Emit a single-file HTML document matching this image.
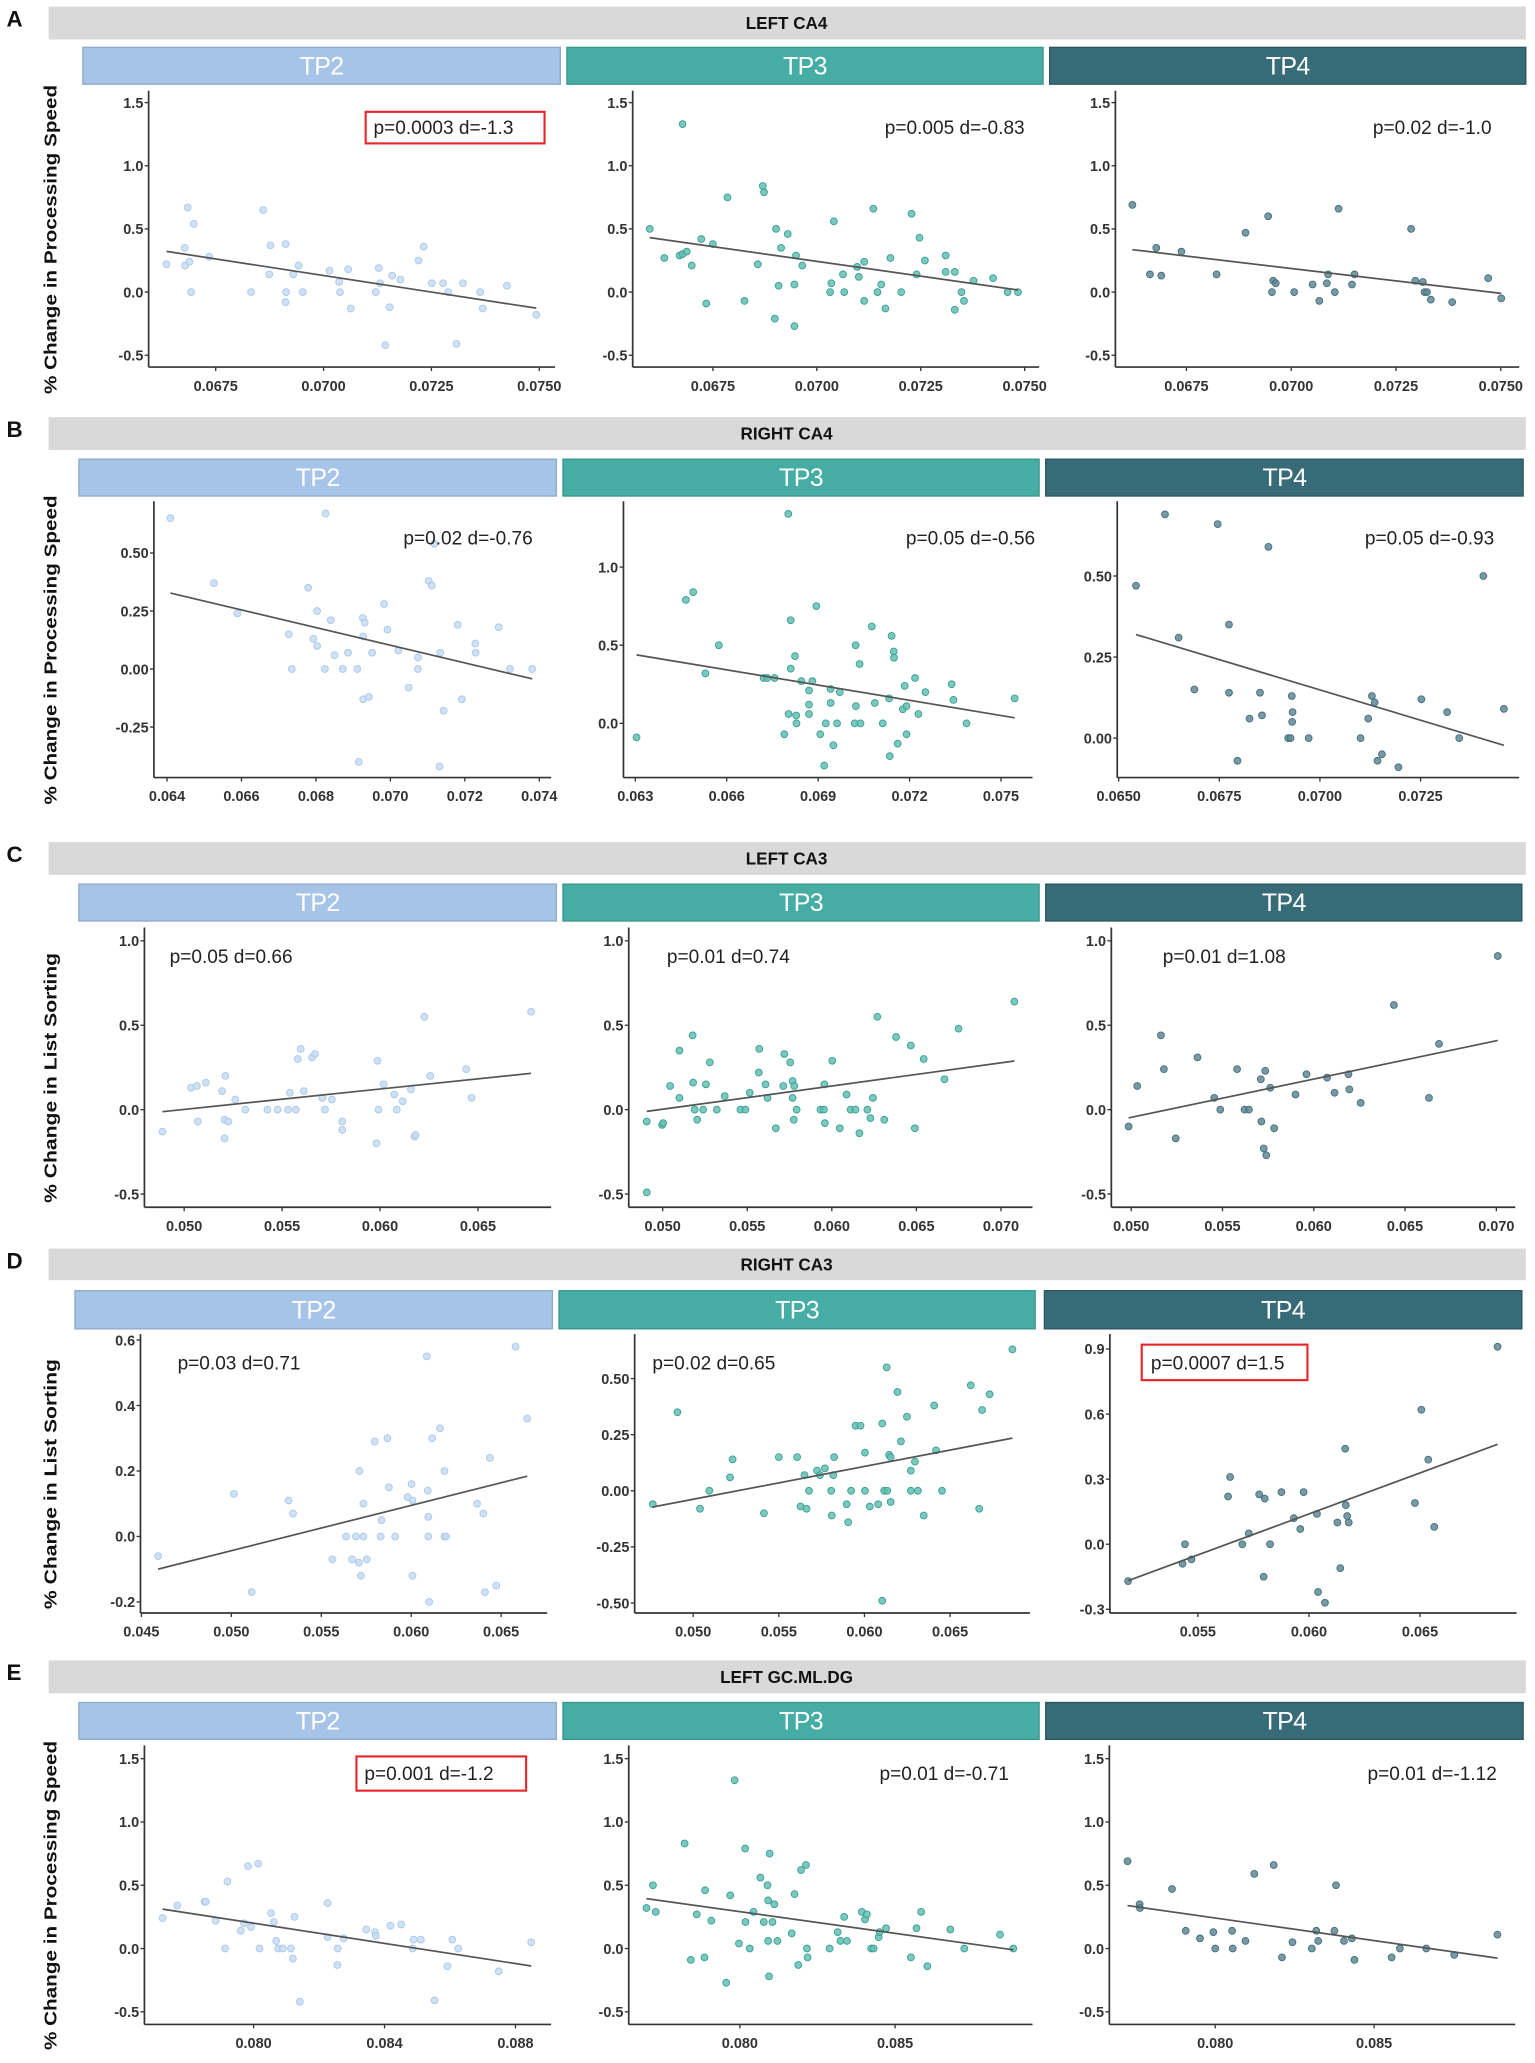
<!DOCTYPE html>
<html><head><meta charset="utf-8"><title>Hippocampal subfield scatter plots</title>
<style>
html,body{margin:0;padding:0;background:#fff;}
svg{display:block;}
text{font-family:"Liberation Sans",Arial,sans-serif;}
</style></head>
<body>
<svg id="fig" xmlns="http://www.w3.org/2000/svg" width="1535" height="2063" viewBox="0 0 1167 1568" preserveAspectRatio="none"></svg>
<script>
// ---------- data ----------
const a_tp2_x=[0.06636,0.06678,0.06685,0.06699,0.06679,0.06689,0.06693,0.06735,0.06832,0.0686,0.06874,0.06877,0.06912,0.06913,0.06912,0.0693,0.06942,0.06952,0.07014,0.07036,0.07038,0.07057,0.07063,0.07121,0.07128,0.07131,0.07143,0.07153,0.07159,0.07178,0.0722,0.07232,0.07251,0.07277,0.07289,0.07308,0.07323,0.07363,0.07369,0.07425,0.07493];
const a_tp2_y=[0.22,0.35,0.67,0.54,0.21,0.24,0,0.28,0,0.65,0.14,0.37,0.38,0,-0.08,0.14,0.21,0,0.17,0.08,0,0.18,-0.13,0,0.19,0.07,-0.42,-0.12,0.13,0.10,0.25,0.36,0.07,0.07,0,-0.41,0.07,0,-0.13,0.05,-0.18];
const a_tp3_x=[0.06598,0.06633,0.0667,0.06677,0.06687,0.06677,0.06699,0.06722,0.06734,0.0675,0.06785,0.06826,0.06858,0.0687,0.06873,0.06902,0.0693,0.06914,0.06899,0.06908,0.06946,0.06946,0.0695,0.06965,0.07032,0.07035,0.07041,0.07063,0.07066,0.07097,0.07101,0.07114,0.07114,0.07136,0.07146,0.07155,0.07165,0.07177,0.07203,0.07228,0.0724,0.07247,0.0726,0.0731,0.0731,0.07332,0.07332,0.07348,0.07354,0.07377,0.07424,0.07459,0.07484];
const a_tp3_y=[0.50,0.27,0.29,0.30,0.32,1.33,0.21,0.42,-0.09,0.38,0.75,-0.07,0.22,0.84,0.79,0.50,0.46,0.35,-0.21,0.05,-0.27,0.06,0.29,0.21,0,0.07,0.56,0.14,0,0.2,0.12,0.24,-0.07,0.66,0,0.06,-0.13,0.27,0,0.62,0.14,0.43,0.25,0.29,0.16,0.16,-0.14,0,-0.07,0.09,0.11,0,0];
const a_tp4_x=[0.06621,0.06663,0.06678,0.0669,0.06738,0.06822,0.06891,0.06945,0.06954,0.06957,0.06963,0.07007,0.07051,0.07067,0.07085,0.07088,0.07104,0.07113,0.07145,0.07151,0.07286,0.07296,0.07314,0.07318,0.07324,0.07333,0.07384,0.0747,0.07501];
const a_tp4_y=[0.69,0.14,0.35,0.13,0.32,0.14,0.47,0.60,0,0.09,0.07,0,0.06,-0.07,0.07,0.14,0,0.66,0.06,0.14,0.50,0.09,0.08,0,0,-0.06,-0.08,0.11,-0.05];

const b_tp2_x=[0.06409,0.06526,0.06589,0.06727,0.06735,0.06779,0.06793,0.06803,0.06803,0.06824,0.06826,0.0684,0.0685,0.06872,0.06886,0.06911,0.06915,0.06926,0.06931,0.06927,0.06942,0.06927,0.06951,0.06983,0.06992,0.07021,0.07049,0.07074,0.07074,0.07103,0.07111,0.07118,0.07134,0.07132,0.07143,0.07181,0.07192,0.07228,0.07229,0.07291,0.07321,0.07381];
const b_tp2_y=[0.65,0.37,0.24,0.15,0,0.35,0.13,0.25,0.10,0,0.67,0.21,0.06,0,0.07,0,-0.40,0.22,0.20,-0.13,-0.12,0.14,0.07,0.28,0.17,0.08,-0.08,0.05,0,0.38,0.36,0.54,0.07,-0.42,-0.18,0.19,-0.13,0.11,0.07,0.18,0,0];
const b_tp3_x=[0.06304,0.06466,0.0649,0.0653,0.06574,0.06721,0.06733,0.06757,0.06802,0.06789,0.06803,0.0681,0.0681,0.06824,0.06828,0.06829,0.06845,0.0687,0.0687,0.0687,0.06881,0.06894,0.06907,0.0692,0.06925,0.06941,0.06941,0.0695,0.06962,0.06971,0.0702,0.07023,0.07024,0.07036,0.07039,0.07076,0.07086,0.07112,0.07133,0.07135,0.07141,0.07148,0.07149,0.07161,0.07178,0.0719,0.0719,0.07184,0.07218,0.07229,0.07252,0.07338,0.07344,0.07387,0.07545];
const b_tp3_y=[-0.09,0.79,0.84,0.32,0.50,0.29,0.29,0.29,1.34,-0.07,0.06,0.35,0.66,0.43,0.05,0,0.27,0.21,0.12,0.06,0.27,0.75,-0.07,-0.27,0,0.13,0.22,-0.14,0,0.20,0,0.50,0.11,0.38,0,0.62,0.13,0,0.16,-0.21,0.56,0.46,0.42,-0.13,0.09,0.11,-0.07,0.24,0.29,0.06,0.20,0.25,0.15,0,0.16];
const b_tp4_x=[0.06543,0.06615,0.06649,0.06688,0.06746,0.06774,0.06774,0.06795,0.06825,0.06851,0.06856,0.06872,0.06921,0.06927,0.0693,0.06932,0.06931,0.06972,0.07101,0.0712,0.07129,0.07136,0.07143,0.07154,0.07195,0.07252,0.07316,0.07346,0.07406,0.07457];
const b_tp4_y=[0.47,0.69,0.31,0.15,0.66,0.35,0.14,-0.07,0.06,0.14,0.07,0.59,0,0,0.13,0.08,0.05,0,0,0.06,0.13,0.11,-0.07,-0.05,-0.09,0.12,0.08,0,0.50,0.09];

const c_tp2_x=[0.04889,0.05035,0.05065,0.0507,0.05111,0.05193,0.05211,0.05206,0.05226,0.05206,0.05261,0.05312,0.05425,0.05477,0.0553,0.0554,0.0557,0.0558,0.05595,0.05611,0.05653,0.05668,0.05706,0.05719,0.05754,0.05807,0.05807,0.05982,0.05987,0.05992,0.06018,0.06073,0.06085,0.06116,0.06158,0.06176,0.06181,0.06226,0.06256,0.0644,0.06467,0.06771];
const c_tp2_y=[-0.13,0.13,0.14,-0.07,0.16,0.11,0.20,-0.06,-0.07,-0.17,0.06,0,0,0,0,0.10,0,0.30,0.36,0.11,0.31,0.33,0.07,0,0.06,-0.07,-0.12,-0.20,0.29,0,0.15,0.09,0,0.05,0.12,-0.16,-0.15,0.55,0.20,0.24,0.07,0.58];
const c_tp3_x=[0.04906,0.04906,0.04997,0.05003,0.05044,0.05099,0.05099,0.05177,0.0518,0.05189,0.05204,0.05239,0.05256,0.05279,0.0532,0.05367,0.0546,0.05489,0.05515,0.05568,0.05571,0.05608,0.0562,0.05669,0.05713,0.05719,0.05754,0.05768,0.05768,0.05775,0.05778,0.05792,0.05933,0.05953,0.05956,0.05959,0.06003,0.06047,0.06087,0.06111,0.0614,0.06163,0.0621,0.06228,0.06243,0.06269,0.0631,0.0638,0.06467,0.06491,0.06543,0.06666,0.06749,0.07079];
const c_tp3_y=[-0.07,-0.49,-0.09,-0.08,0.14,0.07,0.35,0.44,0.16,0,-0.06,0,0.15,0.28,0,0.08,0,0,0.10,0.22,0.36,0.15,0.07,-0.11,0.14,0.33,0.28,0.17,0.07,-0.06,0.14,0,0,0,0.15,-0.08,0.29,-0.11,0.09,0,0,-0.14,0,-0.05,0.07,0.55,-0.06,0.43,0.38,-0.11,0.30,0.18,0.48,0.64];
const c_tp4_x=[0.04986,0.05033,0.05163,0.05179,0.05244,0.05363,0.05455,0.05488,0.0558,0.05621,0.05645,0.0571,0.05713,0.05726,0.05734,0.0574,0.05762,0.05783,0.059,0.0596,0.06073,0.06114,0.0619,0.06195,0.06257,0.06439,0.06631,0.06686,0.07008];
const c_tp4_y=[-0.10,0.14,0.44,0.24,-0.17,0.31,0.07,0,0.24,0,0,0.18,-0.07,-0.23,0.23,-0.27,0.13,-0.11,0.09,0.21,0.19,0.10,0.21,0.12,0.04,0.62,0.07,0.39,0.91];

const d_tp2_x=[0.04593,0.05014,0.05113,0.05318,0.05343,0.05562,0.05638,0.05671,0.05693,0.05709,0.05712,0.0572,0.05734,0.05734,0.05753,0.05797,0.0583,0.05835,0.05868,0.05876,0.05911,0.0598,0.06002,0.06007,0.06007,0.06087,0.06092,0.06095,0.06095,0.061,0.06117,0.0616,0.06185,0.06185,0.06193,0.06366,0.06401,0.0641,0.06437,0.06473,0.0658,0.06645];
const d_tp2_y=[-0.06,0.13,-0.17,0.11,0.07,-0.07,0,-0.07,0,-0.08,0.20,-0.12,0,0.10,-0.07,0.29,0,0.05,0.30,0.15,0,0.12,0.16,0.11,-0.12,0.55,0.14,0.06,0,-0.20,0.30,0.33,0.20,0,0,0.10,0.07,-0.17,0.24,-0.15,0.58,0.36];
const d_tp3_x=[0.04764,0.04908,0.0504,0.05094,0.05215,0.0523,0.05413,0.055,0.05607,0.05627,0.0565,0.05662,0.05676,0.05723,0.0574,0.05769,0.05806,0.05809,0.05818,0.05823,0.05896,0.05905,0.05922,0.05948,0.05977,0.06003,0.06003,0.06031,0.0608,0.06104,0.06115,0.06133,0.0613,0.06104,0.06144,0.06153,0.06153,0.06193,0.06213,0.06248,0.06271,0.06271,0.06295,0.06312,0.06346,0.06407,0.06418,0.06453,0.06621,0.0667,0.06687,0.06731,0.06864];
const d_tp3_y=[-0.06,0.35,-0.08,0,0.06,0.14,-0.10,0.15,0.15,-0.07,0.07,-0.08,0,0.09,0.07,0.10,0,-0.11,0.07,0.15,-0.06,-0.14,0,0.29,0.29,0,0.17,-0.07,-0.06,0.30,0,0,0.55,-0.49,0.16,-0.05,0.15,0.44,0.22,0.33,0.09,0,0.13,0,-0.11,0.38,0.18,0,0.47,-0.08,0.36,0.43,0.63];
const d_tp4_x=[0.05186,0.05431,0.05442,0.05471,0.05636,0.05645,0.057,0.05729,0.05776,0.05796,0.05801,0.05825,0.05876,0.05932,0.05961,0.05976,0.06036,0.06041,0.06072,0.06128,0.06141,0.06163,0.06166,0.06172,0.06179,0.06477,0.06506,0.06537,0.06564,0.06849];
const d_tp4_y=[-0.17,-0.09,0,-0.07,0.22,0.31,0,0.05,0.23,-0.15,0.21,0,0.24,0.12,0.07,0.24,0.14,-0.22,-0.27,0.10,-0.11,0.44,0.18,0.13,0.10,0.19,0.62,0.39,0.08,0.91];

const e_tp2_x=[0.07722,0.07767,0.0785,0.07854,0.07884,0.07913,0.0792,0.07961,0.07971,0.07983,0.07992,0.08014,0.08018,0.08053,0.08062,0.08069,0.08075,0.08089,0.08114,0.0812,0.08125,0.08141,0.08226,0.08226,0.08257,0.08256,0.08275,0.08344,0.08371,0.08373,0.08418,0.08451,0.08486,0.08489,0.08511,0.08553,0.08592,0.08607,0.08625,0.08749,0.08848];
const e_tp2_y=[0.24,0.34,0.37,0.37,0.22,0,0.53,0.14,0.20,0.65,0.17,0.67,0,0.28,0.21,0.06,0,0,0,-0.08,0.25,-0.42,0.36,0.09,0,-0.13,0.08,0.15,0.13,0.10,0.18,0.19,0,0.07,0.07,-0.41,-0.14,0.07,0,-0.18,0.05];
const e_tp3_x=[0.07699,0.0772,0.07729,0.07822,0.07842,0.07861,0.07886,0.07888,0.07908,0.07956,0.07969,0.07983,0.07997,0.08017,0.08018,0.08032,0.08044,0.08066,0.08077,0.08089,0.08091,0.08091,0.08096,0.08094,0.08105,0.08111,0.08121,0.08167,0.08176,0.08188,0.08197,0.08213,0.08216,0.08218,0.08289,0.08315,0.08324,0.08336,0.08345,0.08393,0.08403,0.08409,0.08423,0.08431,0.08447,0.0845,0.08471,0.08551,0.08569,0.08584,0.08604,0.08678,0.08723,0.08838,0.08881];
const e_tp3_y=[0.32,0.50,0.29,0.83,-0.09,0.27,-0.07,0.46,0.22,-0.27,0.42,1.33,0.04,0.79,0.21,0,0.29,0.56,0.21,0.50,0.38,0.06,0.75,-0.22,0.21,0.35,0.06,0.12,0.43,-0.13,0.62,0.66,0,-0.07,0,0.13,0.06,0.25,0.06,0.29,0.23,0.27,0,0,0.09,0.13,0.16,-0.07,0.16,0.29,-0.14,0.15,0,0.11,0];
const e_tp4_x=[0.07724,0.07762,0.07763,0.07864,0.07907,0.07952,0.07994,0.08,0.08053,0.08055,0.08095,0.08123,0.08184,0.0821,0.08243,0.08304,0.08318,0.08324,0.08375,0.0838,0.08405,0.0843,0.08438,0.08555,0.08581,0.08664,0.08752,0.08888];
const e_tp4_y=[0.69,0.35,0.32,0.47,0.14,0.08,0.13,0,0.14,0,0.06,0.59,0.66,-0.07,0.05,0,0.14,0.06,0.14,0.50,0.06,0.08,-0.09,-0.07,0,0,-0.05,0.11];

// tick labels
const a_xticks=["0.0675","0.0700","0.0725","0.0750"];
const ps_yticks=["-0.5","0.0","0.5","1.0","1.5"];
const b1_xticks=["0.064","0.066","0.068","0.070","0.072","0.074"];
const b1_yticks=["-0.25","0.00","0.25","0.50"];
const b2_xticks=["0.063","0.066","0.069","0.072","0.075"];
const b2_yticks=["0.0","0.5","1.0"];
const b3_xticks=["0.0650","0.0675","0.0700","0.0725"];
const b3_yticks=["0.00","0.25","0.50"];
const c1_xticks=["0.050","0.055","0.060","0.065"];
const c2_xticks=["0.050","0.055","0.060","0.065","0.070"];
const ls_yticks=["-0.5","0.0","0.5","1.0"];
const d1_xticks=["0.045","0.050","0.055","0.060","0.065"];
const d1_yticks=["-0.2","0.0","0.2","0.4","0.6"];
const d2_xticks=["0.050","0.055","0.060","0.065"];
const d2_yticks=["-0.50","-0.25","0.00","0.25","0.50"];
const d3_xticks=["0.055","0.060","0.065"];
const d3_yticks=["-0.3","0.0","0.3","0.6","0.9"];
const e1_xticks=["0.080","0.084","0.088"];
const e23_xticks=["0.080","0.085"];

const annotations=["p=0.0003 d=-1.3","p=0.005 d=-0.83","p=0.02 d=-1.0","p=0.02 d=-0.76","p=0.05 d=-0.56","p=0.05 d=-0.93","p=0.05 d=0.66","p=0.01 d=0.74","p=0.01 d=1.08","p=0.03 d=0.71","p=0.02 d=0.65","p=0.0007 d=1.5","p=0.001 d=-1.2","p=0.01 d=-0.71","p=0.01 d=-1.12"];

// ---------- layout ----------
const NS="http://www.w3.org/2000/svg";
const svg=document.getElementById('fig');
function mk(tag,attrs,parent){const e=document.createElementNS(NS,tag);for(const k in attrs)e.setAttribute(k,attrs[k]);(parent||svg).appendChild(e);return e;}

const STRIP_FILL=["#a6c4e7","#45ada3","#386b78"];
const STRIP_STROKE=["#8fa9c8","#3a968d","#2b5661"];
const PT_FILL=["#c7dcf3","#63c0b4","#5f8894"];
const PT_STROKE=["#adc8e8","#3d9f93","#46707c"];
const TPN=["TP2","TP3","TP4"];

const rows=[
 {id:"A",title:"LEFT CA4",bar:[5,30],strip:[36,64],sx:[[63,426],[431,793],[798,1160]],top:69,bottom:279,yt:"% Change in Processing Speed",ytl:235},
 {id:"B",title:"RIGHT CA4",bar:[317,342],strip:[349,377],sx:[[60,423],[428,790],[795,1158]],top:381,bottom:591,yt:"% Change in Processing Speed",ytl:235},
 {id:"C",title:"LEFT CA3",bar:[640,665],strip:[672,700],sx:[[60,423],[428,790],[795,1157]],top:705,bottom:917.6,yt:"% Change in List Sorting",ytl:190},
 {id:"D",title:"RIGHT CA3",bar:[949,973],strip:[981,1010],sx:[[57,420],[425,787],[794,1157]],top:1014,bottom:1226,yt:"% Change in List Sorting",ytl:190},
 {id:"E",title:"LEFT GC.ML.DG",bar:[1262,1287],strip:[1294,1322],sx:[[60,423],[428,790],[795,1158]],top:1326.6,bottom:1538.7,yt:"% Change in Processing Speed",ytl:235}
];

const panels=[
 {r:0,c:0,X:a_tp2_x,Y:a_tp2_y,ax:113,right:422,xa:[0.0675,164,0.075,410],ya:[1.5,78,-0.5,270],xt:a_xticks,yt:ps_yticks,ann:{a:"start",x:284,y:97,box:[278,85,414,109]}},
 {r:0,c:1,X:a_tp3_x,Y:a_tp3_y,ax:481,right:790,xa:[0.0675,542,0.075,779],ya:[1.5,78,-0.5,270],xt:a_xticks,yt:ps_yticks,ann:{a:"end",x:779,y:97}},
 {r:0,c:2,X:a_tp4_x,Y:a_tp4_y,ax:848,right:1155,xa:[0.0675,902,0.075,1141],ya:[1.5,78,-0.5,270],xt:a_xticks,yt:ps_yticks,ann:{a:"end",x:1134,y:97}},
 {r:1,c:0,X:b_tp2_x,Y:b_tp2_y,ax:117,right:419,xa:[0.064,127,0.074,410],ya:[0.5,420.3,0,508.5],xt:b1_xticks,yt:b1_yticks,ann:{a:"end",x:405,y:409}},
 {r:1,c:1,X:b_tp3_x,Y:b_tp3_y,ax:474,right:785,xa:[0.063,483,0.075,761],ya:[1.0,431,0,549.8],xt:b2_xticks,yt:b2_yticks,ann:{a:"end",x:787,y:409}},
 {r:1,c:2,X:b_tp4_x,Y:b_tp4_y,ax:849.4,right:1155,xa:[0.065,850.5,0.0725,1080],ya:[0.5,437.8,0,561],xt:b3_xticks,yt:b3_yticks,ann:{a:"end",x:1136,y:409}},
 {r:2,c:0,X:c_tp2_x,Y:c_tp2_y,ax:109.8,right:419,xa:[0.05,140,0.065,363.4],ya:[1.0,715.1,0,843.4],xt:c1_xticks,yt:ls_yticks,ann:{a:"start",x:129,y:727}},
 {r:2,c:1,X:c_tp3_x,Y:c_tp3_y,ax:478,right:785,xa:[0.05,503.8,0.07,761],ya:[1.0,715.1,0,843.4],xt:c2_xticks,yt:ls_yticks,ann:{a:"start",x:507,y:727}},
 {r:2,c:2,X:c_tp4_x,Y:c_tp4_y,ax:844.9,right:1152,xa:[0.05,860,0.07,1137.6],ya:[1.0,715.1,0,843.4],xt:c2_xticks,yt:ls_yticks,ann:{a:"start",x:884,y:727}},
 {r:3,c:0,X:d_tp2_x,Y:d_tp2_y,ax:106.8,right:416,xa:[0.045,107.5,0.065,381],ya:[0.6,1018.5,0,1167.8],xt:d1_xticks,yt:d1_yticks,ann:{a:"start",x:135,y:1036}},
 {r:3,c:1,X:d_tp3_x,Y:d_tp3_y,ax:482.5,right:783,xa:[0.05,527,0.065,722.3],ya:[0.5,1047.8,0,1133.1],xt:d2_xticks,yt:d2_yticks,ann:{a:"start",x:496,y:1036}},
 {r:3,c:2,X:d_tp4_x,Y:d_tp4_y,ax:843.8,right:1153,xa:[0.055,910.7,0.065,1079.6],ya:[0.9,1025.3,0,1173.7],xt:d3_xticks,yt:d3_yticks,ann:{a:"start",x:875,y:1036,box:[868,1022,994,1049]}},
 {r:4,c:0,X:e_tp2_x,Y:e_tp2_y,ax:109.8,right:419,xa:[0.08,192.8,0.088,391.9],ya:[1.5,1336.7,0,1481],xt:e1_xticks,yt:ps_yticks,ann:{a:"start",x:277,y:1348,box:[271,1335,400,1361]}},
 {r:4,c:1,X:e_tp3_x,Y:e_tp3_y,ax:478,right:785,xa:[0.08,562.5,0.085,680.5],ya:[1.5,1336.7,0,1481],xt:e23_xticks,yt:ps_yticks,ann:{a:"end",x:767,y:1348}},
 {r:4,c:2,X:e_tp4_x,Y:e_tp4_y,ax:843.4,right:1152,xa:[0.08,923.9,0.085,1044.7],ya:[1.5,1336.7,0,1481],xt:e23_xticks,yt:ps_yticks,ann:{a:"end",x:1138,y:1348}}
];

// rows: letter, title bar, strips, y-axis title
rows.forEach(function(R){
  const g=mk('g',{});
  
  
  const L=mk('text',{x:5,y:R.bar[0]+15,'font-size':17,'font-weight':'bold',fill:'#111'},g);
  L.textContent=R.id;
  
  
  const bar=mk('rect',{x:37,y:R.bar[0],width:1123,height:R.bar[1]-R.bar[0],fill:'#d9d9d9'},g);
  
  
  const bt=mk('text',{x:598,y:(R.bar[0]+R.bar[1])/2+4.5,'text-anchor':'middle','font-size':13,'font-weight':'bold',fill:'#111'},g);
  bt.textContent=R.title;
  
  
  R.sx.forEach(function(s,i){
    const st=mk('rect',{x:s[0],y:R.strip[0],width:s[1]-s[0],height:R.strip[1]-R.strip[0],fill:STRIP_FILL[i],stroke:STRIP_STROKE[i],'stroke-width':1},g);
    
    
    const tt=mk('text',{x:(s[0]+s[1])/2,y:(R.strip[0]+R.strip[1])/2+6.5,'text-anchor':'middle','font-size':19,fill:'#ffffff',transform:'',style:'letter-spacing:-0.5px'},g);
    tt.textContent=TPN[i];
    
    
  });
  const cy=(R.top+R.bottom)/2+8;
  const yt=mk('text',{x:0,y:0,'text-anchor':'middle','font-size':13.5,'font-weight':'bold',fill:'#111',transform:'translate(43,'+cy+') rotate(-90)',textLength:R.ytl,lengthAdjust:'spacingAndGlyphs'},g);
  yt.textContent=R.yt;
  
  
});

function lin(a){const s=(a[3]-a[1])/(a[2]-a[0]);return function(v){return a[1]+(v-a[0])*s;};}

panels.forEach(function(P,pi){
  const R=rows[P.r];
  const sx=lin(P.xa), sy=lin(P.ya);
  const g=mk('g',{});
  
  
  // axes
  const ya=mk('line',{x1:P.ax,y1:R.top,x2:P.ax,y2:R.bottom,stroke:'#333','stroke-width':1.3},g);
  
  
  const xa=mk('line',{x1:P.ax,y1:R.bottom,x2:P.right,y2:R.bottom,stroke:'#333','stroke-width':1.3},g);
  
  
  P.yt.forEach(function(lab){
    const v=parseFloat(lab), y=sy(v);
    mk('line',{x1:P.ax-3,y1:y,x2:P.ax,y2:y,stroke:'#333','stroke-width':1},g);
    const t=mk('text',{x:P.ax-4,y:y+4,'text-anchor':'end','font-size':11,fill:'#333','font-weight':'bold'},g);
    t.textContent=lab;
    
    
  });
  P.xt.forEach(function(lab){
    const v=parseFloat(lab), x=sx(v);
    mk('line',{x1:x,y1:R.bottom,x2:x,y2:R.bottom+3,stroke:'#333','stroke-width':1},g);
    const t=mk('text',{x:x,y:R.bottom+18,'text-anchor':'middle','font-size':11,fill:'#333','font-weight':'bold'},g);
    t.textContent=lab;
    
    
  });
  // points
  const n=Math.min(P.X.length,P.Y.length);
  let sxv=0,syv=0,sxx=0,sxy=0,mn=Infinity,mxv=-Infinity;
  for(let i=0;i<n;i++){
    const c=mk('circle',{cx:sx(P.X[i]),cy:sy(P.Y[i]),r:2.6,fill:PT_FILL[P.c],stroke:PT_STROKE[P.c],'stroke-width':0.7,'fill-opacity':0.85},g);
    
    
    sxv+=P.X[i];syv+=P.Y[i];sxx+=P.X[i]*P.X[i];sxy+=P.X[i]*P.Y[i];
    if(P.X[i]<mn)mn=P.X[i]; if(P.X[i]>mxv)mxv=P.X[i];
  }
  const slope=(n*sxy-sxv*syv)/(n*sxx-sxv*sxv), icpt=(syv-slope*sxv)/n;
  const ln=mk('line',{x1:sx(mn),y1:sy(icpt+slope*mn),x2:sx(mxv),y2:sy(icpt+slope*mxv),stroke:'#555','stroke-width':1.3},g);
  
  
  // annotation
  const A=P.ann;
  if(A.box){
    const b=mk('rect',{x:A.box[0],y:A.box[1],width:A.box[2]-A.box[0],height:A.box[3]-A.box[1],fill:'none',stroke:'#e8232a','stroke-width':1.6},g);
    
    
  }
  const at=mk('text',{x:A.x,y:A.y+5,'text-anchor':A.a,'font-size':14.5,fill:'#222'},g);
  at.textContent=annotations[pi];
  
  
});
</script>
</body></html>
